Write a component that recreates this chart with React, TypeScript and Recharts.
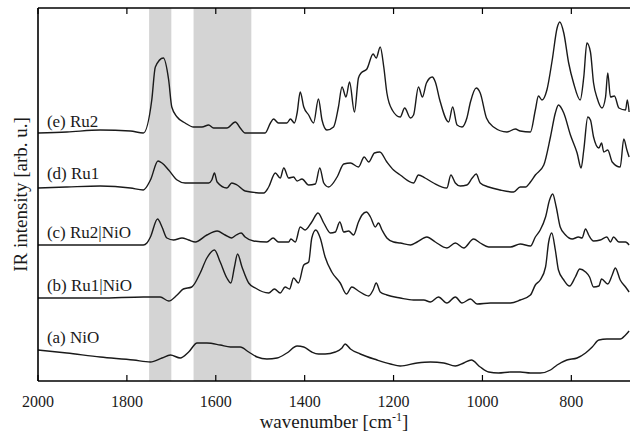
import React from "react";
import { LineChart, Line, XAxis, YAxis, ReferenceArea, ReferenceDot } from "recharts";

// wavenumber (cm-1) / intensity (arb. u., stacked offsets)
const ru2Wn = [2000, 1935, 1860, 1792, 1763, 1744, 1736, 1718, 1706, 1699, 1687, 1669, 1650, 1631, 1616, 1605, 1575, 1556, 1545, 1534, 1489, 1477, 1470, 1459, 1440, 1432, 1423, 1417, 1410, 1402, 1391, 1380, 1369, 1361, 1350, 1335, 1324, 1316, 1307, 1299, 1288, 1279, 1273, 1260, 1246, 1239, 1230, 1222, 1215, 1203, 1185, 1175, 1162, 1155, 1144, 1135, 1126, 1113, 1106, 1096, 1076, 1067, 1057, 1046, 1035, 1027, 1014, 1005, 991, 975, 945, 926, 915, 892, 881, 874, 866, 855, 843, 832, 826, 817, 806, 795, 780, 772, 765, 757, 750, 742, 731, 723, 718, 712, 703, 693, 678, 674, 670];
const ru2Int = [248, 249, 251, 250, 248, 281, 314, 323, 301, 274, 264, 258, 254, 254, 256, 253, 253, 259, 253, 248, 248, 258, 262, 258, 258, 262, 258, 268, 289, 274, 266, 258, 282, 261, 251, 254, 274, 294, 284, 299, 269, 303, 308, 312, 327, 323, 334, 314, 288, 271, 264, 273, 263, 266, 294, 284, 298, 304, 299, 281, 259, 274, 256, 254, 263, 279, 293, 288, 263, 254, 249, 252, 250, 249, 271, 285, 281, 291, 321, 353, 359, 348, 318, 298, 281, 304, 338, 329, 298, 283, 273, 284, 308, 284, 285, 273, 271, 281, 269];

const ru1Wn = [2000, 1935, 1860, 1792, 1763, 1747, 1730, 1721, 1706, 1687, 1669, 1642, 1616, 1609, 1603, 1597, 1575, 1564, 1552, 1534, 1492, 1481, 1466, 1455, 1447, 1436, 1425, 1417, 1406, 1391, 1376, 1366, 1357, 1346, 1327, 1312, 1297, 1279, 1266, 1256, 1243, 1231, 1215, 1200, 1185, 1155, 1144, 1129, 1110, 1080, 1071, 1061, 1050, 1035, 1023, 1014, 1005, 986, 960, 930, 915, 903, 892, 881, 862, 847, 836, 829, 817, 802, 787, 778, 772, 763, 757, 750, 738, 732, 727, 718, 708, 690, 682, 675, 670];
const ru1Int = [193, 194, 195, 193, 191, 201, 220, 218, 211, 201, 198, 198, 198, 201, 208, 199, 193, 198, 196, 190, 188, 194, 208, 203, 213, 203, 204, 200, 202, 196, 197, 213, 198, 194, 204, 217, 218, 214, 224, 219, 228, 229, 219, 211, 206, 198, 206, 203, 198, 193, 206, 198, 195, 196, 203, 207, 198, 194, 191, 189, 194, 194, 199, 206, 216, 244, 268, 276, 268, 246, 228, 213, 231, 264, 261, 244, 233, 238, 229, 231, 219, 214, 242, 231, 224];

const ru2NiOWn = [2000, 1860, 1763, 1755, 1747, 1731, 1721, 1710, 1695, 1676, 1661, 1646, 1620, 1597, 1579, 1564, 1554, 1543, 1534, 1515, 1485, 1471, 1459, 1436, 1431, 1421, 1410, 1399, 1384, 1370, 1357, 1342, 1331, 1321, 1312, 1301, 1290, 1279, 1271, 1261, 1252, 1241, 1234, 1226, 1215, 1200, 1185, 1162, 1147, 1125, 1106, 1080, 1061, 1042, 1020, 1005, 986, 960, 937, 915, 892, 881, 870, 858, 849, 842, 834, 825, 813, 798, 784, 776, 768, 761, 750, 735, 720, 712, 705, 693, 678, 670];
const ru2NiOInt = [136, 136, 136, 138, 144, 162, 154, 143, 141, 143, 141, 139, 146, 150, 146, 143, 146, 148, 144, 140, 139, 143, 139, 139, 142, 139, 154, 151, 159, 168, 158, 148, 149, 159, 149, 150, 146, 159, 166, 169, 164, 154, 158, 151, 143, 139, 138, 136, 139, 144, 139, 133, 138, 133, 142, 138, 134, 134, 134, 137, 135, 144, 151, 164, 181, 187, 174, 154, 146, 142, 144, 143, 152, 146, 140, 141, 144, 139, 144, 139, 139, 136];

const ru1NiOWn = [2000, 1860, 1763, 1725, 1706, 1687, 1673, 1654, 1635, 1620, 1603, 1590, 1575, 1566, 1558, 1551, 1541, 1526, 1511, 1481, 1468, 1455, 1444, 1434, 1425, 1414, 1402, 1391, 1384, 1375, 1365, 1354, 1339, 1320, 1306, 1294, 1279, 1256, 1246, 1239, 1230, 1215, 1185, 1155, 1132, 1117, 1099, 1080, 1061, 1046, 1027, 1012, 982, 937, 915, 892, 881, 870, 858, 851, 844, 836, 829, 817, 804, 791, 781, 768, 759, 750, 738, 732, 718, 708, 701, 690, 678, 670];
const ru1NiOInt = [83, 83, 84, 84, 80, 86, 92, 94, 108, 123, 131, 119, 103, 98, 114, 127, 114, 98, 93, 88, 92, 88, 94, 92, 103, 98, 116, 119, 143, 151, 143, 124, 109, 98, 87, 94, 90, 85, 91, 98, 89, 86, 83, 81, 81, 79, 84, 78, 84, 78, 82, 77, 78, 78, 81, 86, 96, 101, 114, 139, 148, 131, 111, 101, 95, 104, 112, 109, 104, 94, 95, 102, 97, 106, 113, 101, 94, 89];

const nioWn = [2000, 1935, 1860, 1785, 1747, 1721, 1702, 1680, 1661, 1642, 1620, 1590, 1567, 1545, 1526, 1507, 1485, 1462, 1440, 1417, 1402, 1384, 1369, 1354, 1331, 1316, 1309, 1297, 1275, 1237, 1207, 1185, 1147, 1117, 1087, 1061, 1042, 1025, 1005, 986, 964, 937, 915, 892, 870, 847, 832, 810, 787, 768, 753, 738, 720, 705, 690, 678, 670];
const nioInt = [31, 28, 24, 21, 19, 23, 26, 23, 29, 38, 38, 36, 34, 34, 29, 24, 22, 23, 28, 35, 34, 29, 27, 27, 29, 33, 37, 32, 27, 21, 17, 15, 18, 19, 18, 15, 18, 21, 14, 9, 8, 9, 9, 8, 8, 11, 16, 21, 23, 28, 34, 41, 42, 42, 42, 46, 50];

const seriesNames = ["(e) Ru2", "(d) Ru1", "(c) Ru2|NiO", "(b) Ru1|NiO", "(a) NiO"];
const labelLevels = [260, 208, 149, 96, 44];

const bandFrom = [1750, 1650];
const bandTo = [1700, 1520];

const xTicks = [2000, 1800, 1600, 1400, 1200, 1000, 800];

const FONT = "'Liberation Serif', 'DejaVu Serif', serif";
const INK = "#1a1a1a";

const toPoints = (wn: number[], val: number[]) => wn.map((w, i) => ({ wn: w, y: val[i] }));

const spectra = [
  toPoints(ru2Wn, ru2Int),
  toPoints(ru1Wn, ru1Int),
  toPoints(ru2NiOWn, ru2NiOInt),
  toPoints(ru1NiOWn, ru1NiOInt),
  toPoints(nioWn, nioInt),
];

// inward tick + label below the frame
const BottomTick = ({ x, y, payload }: any) => (
  <g>
    <line x1={x} x2={x} y1={y} y2={y - 6} stroke="#000" strokeWidth={1.2} />
    <text x={x} y={y + 26} textAnchor="middle" fontFamily={FONT} fontSize={16} fill={INK}>
      {payload.value}
    </text>
  </g>
);

const TopTick = ({ x, y }: any) => (
  <line x1={x} x2={x} y1={y} y2={y + 6} stroke="#000" strokeWidth={1.2} />
);

const XTitle = ({ viewBox }: any) => {
  const cx = viewBox.x + viewBox.width / 2;
  return (
    <text x={cx} y={428} textAnchor="middle" fontFamily={FONT} fontSize={19} fill={INK}>
      wavenumber [cm
      <tspan dy={-7} fontSize={12}>-1</tspan>
      <tspan dy={7}>]</tspan>
    </text>
  );
};

const YTitle = ({ viewBox }: any) => {
  const cy = viewBox.y + viewBox.height / 2;
  const x = 27;
  return (
    <text x={x} y={cy} transform={`rotate(-90 ${x} ${cy})`} textAnchor="middle" fontFamily={FONT} fontSize={19} fill={INK}>
      IR intensity [arb. u.]
    </text>
  );
};

export default function App() {
  return (
    <div style={{ position: "absolute", left: 0, top: 0, background: "#fff" }}>
      <LineChart width={630} height={439} margin={{ top: 7, right: 0, bottom: 18, left: 37 }}>
        <XAxis
          dataKey="wn"
          type="number"
          domain={[668, 2000]}
          reversed
          allowDataOverflow
          ticks={xTicks}
          interval={0}
          height={40}
          tickSize={0}
          tickMargin={0}
          tickLine={false}
          axisLine={{ stroke: "#000", strokeWidth: 1.6 }}
          tick={<BottomTick />}
          label={<XTitle />}
        />
        <XAxis
          xAxisId="top"
          dataKey="wn"
          type="number"
          orientation="top"
          domain={[668, 2000]}
          reversed
          allowDataOverflow
          ticks={xTicks}
          interval={0}
          height={1}
          tickSize={0}
          tickMargin={0}
          tickLine={false}
          tick={<TopTick />}
          axisLine={{ stroke: "#000", strokeWidth: 1.6 }}
        />
        <YAxis
          type="number"
          domain={[0, 373]}
          allowDataOverflow
          width={1}
          tick={false}
          tickLine={false}
          axisLine={{ stroke: "#000", strokeWidth: 1.6 }}
          label={<YTitle />}
        />
        {bandFrom.map((b, i) => (
          <ReferenceArea key={`band-${i}`} x1={b} x2={bandTo[i]} fill="#d4d4d4" fillOpacity={1} stroke="none" />
        ))}
        {spectra.map((d, i) => (
          <Line
            key={seriesNames[i]}
            data={d}
            dataKey="y"
            type="monotone"
            stroke={INK}
            strokeWidth={1.4}
            dot={false}
            isAnimationActive={false}
          />
        ))}
        {seriesNames.map((name, i) => (
          <ReferenceDot
            key={`lbl-${i}`}
            x={1980}
            y={labelLevels[i]}
            r={0}
            fill="none"
            stroke="none"
            label={{ value: name, position: "right", offset: 0, fill: INK, fontSize: 17, fontFamily: FONT }}
          />
        ))}
      </LineChart>
    </div>
  );
}
